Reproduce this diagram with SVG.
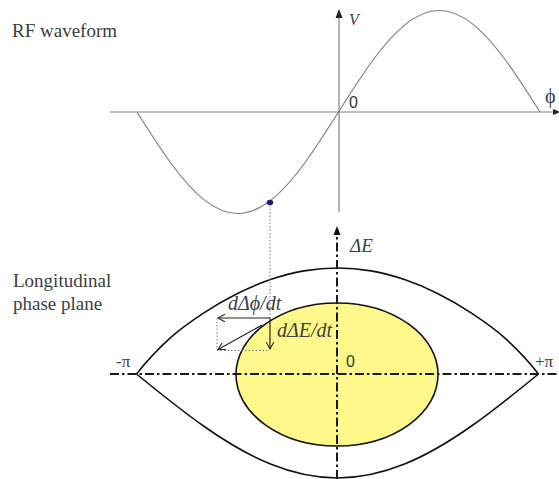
<svg xmlns="http://www.w3.org/2000/svg" width="559" height="479" viewBox="0 0 559 479">
<style>
.lbl{font-family:'Liberation Serif','DejaVu Serif',serif;fill:#404040}
.it{font-family:'Liberation Serif','DejaVu Serif',serif;font-style:italic;fill:#404040}
.sans{font-family:'Liberation Sans','DejaVu Sans',sans-serif;fill:#333}
.gax{stroke:#808080;stroke-width:1.2;fill:none}
.dd{stroke:#1a1a1a;stroke-width:2;fill:none;stroke-dasharray:9 3 2.5 3}
.dot{stroke:#777;stroke-width:1;fill:none;stroke-dasharray:1.5 2}
.vec{stroke:#222;stroke-width:1.2;fill:none}
.sep{fill:none;stroke:#111;stroke-width:1.6}
</style>
<defs>
<marker id="open" viewBox="0 0 10 10" refX="9" refY="5" markerWidth="8" markerHeight="8" markerUnits="userSpaceOnUse" orient="auto">
<path d="M0,0 L9,5 L0,10" fill="none" stroke="#222" stroke-width="1.3"/>
</marker>
</defs>
<rect width="559" height="479" fill="#fff"/>
<g id="rf-waveform">
<line class="gax" x1="110" y1="112" x2="555" y2="112"/>
<path d="M553,109 L560,112 L553,115 Z" fill="#222"/>
<line class="gax" x1="339" y1="212" x2="339" y2="16"/>
<path d="M335.5,18 L339,9 L342.5,18 Z" fill="#222"/>
<path class="gax" stroke-width="1" d="M137,112 C148.2,129.7 159.4,147.4 170.6,162.75 C181.8,178.1 193.0,191.0 204.2,199.9 C215.4,208.8 226.6,213.5 237.8,213.5 C249.0,213.5 260.1,208.8 271.3,199.9 C282.5,191.0 293.7,178.1 304.9,162.75 C316.1,147.4 327.3,129.7 338.5,112 C349.7,94.3 360.9,76.6 372.1,61.25 C383.3,45.9 394.5,33.0 405.7,24.1 C416.9,15.2 428.1,10.5 439.3,10.5 C450.5,10.5 461.6,15.2 472.8,24.1 C484.0,33.0 495.2,45.9 506.4,61.25 C517.6,76.6 528.8,94.3 540,112"/>
<ellipse cx="270" cy="202.5" rx="3.2" ry="2.7" fill="#1a1a6e"/>
<text class="lbl" x="12" y="37" font-size="19">RF waveform</text>
<text class="it" x="349" y="25" font-size="16">V</text>
<text class="sans" x="349" y="108" font-size="16">0</text>
<text class="lbl" x="545" y="103" font-size="20">ϕ</text>
</g>
<g id="phase-plane">
<text class="lbl" x="13" y="287" font-size="19">Longitudinal</text>
<text class="lbl" x="13" y="310" font-size="19">phase plane</text>
<path class="sep" d="M136.5,374 C147.5,360 158.8,348.3 170,338.1 C181.2,327.95 192.3,320.5 203.5,313.1 C214.7,305.7 225.8,299.3 237,293.7 C248.2,288.1 259.3,283.4 270.5,279.6 C281.7,275.8 292.8,272.8 304,270.9 C315.2,269.0 326.3,268 337.5,268 C348.7,268 359.8,269.0 371,270.9 C382.2,272.8 393.3,275.8 404.5,279.6 C415.7,283.4 426.8,288.1 438,293.7 C449.2,299.3 460.3,305.7 471.5,313.1 C482.7,320.5 493.8,327.95 505,338.1 C516.2,348.3 527.5,360 538.5,374"/>
<path class="sep" d="M136.5,374 C158.8,392.2 181.2,410.3 203.5,426 C225.8,441.7 248.2,455.0 270.5,464.1 C292.8,473.2 315.2,478 337.5,478 C359.8,478 382.2,473.2 404.5,464.1 C426.8,455.0 449.2,441.7 471.5,426 C493.8,410.3 516.2,392.2 538.5,374"/>
</g>
<g id="vectors">
<line class="vec" x1="262" y1="325" x2="218" y2="349.5" marker-end="url(#open)"/>
</g>
<g id="bunch">
<ellipse cx="337" cy="374.5" rx="101" ry="71.5" fill="#fef98a" stroke="#111" stroke-width="1.6"/>
</g>
<g id="connectors">
<line class="dot" x1="270" y1="205" x2="270" y2="318"/>
<line class="dot" x1="217" y1="318" x2="217" y2="350"/>
<line class="dot" x1="217" y1="350.5" x2="268" y2="350.5"/>
<line class="vec" x1="270" y1="318" x2="218" y2="318" marker-end="url(#open)"/>
<line class="vec" x1="270" y1="318" x2="270" y2="349" marker-end="url(#open)"/>
<line class="dd" x1="110" y1="374" x2="559" y2="374"/>
<line class="dd" x1="337" y1="479" x2="337" y2="234"/>
<path d="M333.5,235 L337,226 L340.5,235 Z" fill="#111"/>
</g>
<g id="labels">
<text class="it" x="350" y="252" font-size="19">ΔE</text>
<text class="it" x="228" y="310" font-size="20">dΔϕ/dt</text>
<text class="it" x="277" y="337" font-size="20">dΔE/dt</text>
<text class="sans" x="346" y="367" font-size="16">0</text>
<text class="lbl" x="116" y="367" font-size="17">-π</text>
<text class="lbl" x="535" y="367" font-size="17">+π</text>
</g>
</svg>
